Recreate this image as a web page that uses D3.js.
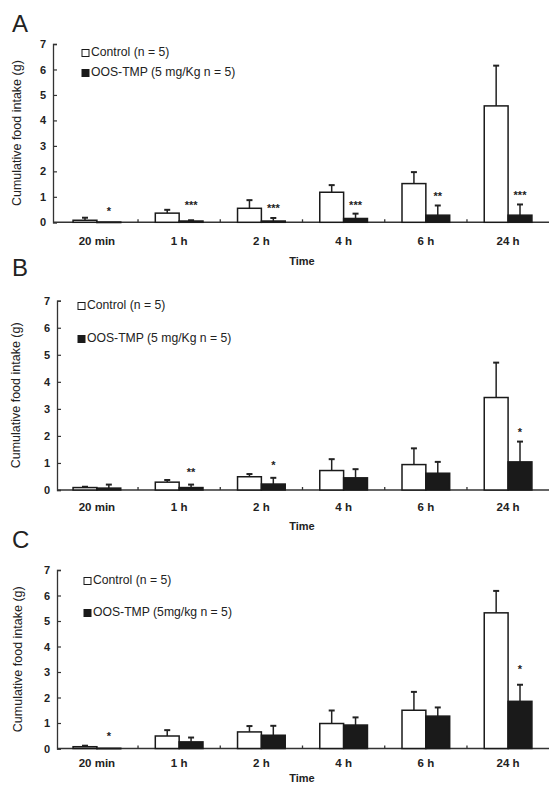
<!DOCTYPE html>
<html><head><meta charset="utf-8">
<script src="https://cdn.jsdelivr.net/npm/d3@7"></script>
<style>body{margin:0;background:#fff}svg{display:block}text{font-family:"Liberation Sans",Arial,sans-serif;fill:#222}</style>
</head><body>
<svg id="c" width="549" height="785"></svg>
<script>
const categories = ["20 min","1 h","2 h","4 h","6 h","24 h"];
const yTicks = [0,1,2,3,4,5,6,7];

const A_control    = [0.08,0.36,0.55,1.18,1.52,4.57];
const A_controlErr = [0.10,0.13,0.32,0.28,0.45,1.58];
const A_oos        = [0.01,0.05,0.05,0.15,0.28,0.28];
const A_oosErr     = [0.00,0.03,0.12,0.19,0.38,0.42];
const A_sig        = ["*","***","***","***","**","***"];
const A_sigY       = [0.56,0.79,0.66,0.77,1.12,1.16];

const B_control    = [0.09,0.29,0.49,0.72,0.94,3.42];
const B_controlErr = [0.03,0.08,0.10,0.42,0.60,1.29];
const B_oos        = [0.07,0.09,0.22,0.45,0.62,1.04];
const B_oosErr     = [0.13,0.11,0.23,0.32,0.42,0.75];
const B_sig        = ["","**","*","","","*"];
const B_sigY       = [0,0.74,1.02,0,0,2.25];

const C_control    = [0.07,0.49,0.65,0.98,1.50,5.32];
const C_controlErr = [0.04,0.23,0.23,0.51,0.72,0.86];
const C_oos        = [0.01,0.26,0.52,0.92,1.27,1.85];
const C_oosErr     = [0.00,0.17,0.37,0.30,0.34,0.65];
const C_sig        = ["*","","","","","*"];
const C_sigY       = [0.59,0,0,0,0,3.2];

const legendControl = "Control (n = 5)";
const legendA = "OOS-TMP (5 mg/Kg n = 5)";
const legendB = "OOS-TMP (5 mg/Kg n = 5)";
const legendC = "OOS-TMP (5mg/kg n = 5)";

const panels = [
  {letter:"A", ctl:A_control, ctlE:A_controlErr, oos:A_oos, oosE:A_oosErr, sig:A_sig, sigY:A_sigY, leg:legendA,
   top:44, bottom:222.3, axisX:53, letterY:32, legX:82, legY1:53, legY2:73, tickDy:19, timeY:262, ylabX:18},
  {letter:"B", ctl:B_control, ctlE:B_controlErr, oos:B_oos, oosE:B_oosErr, sig:B_sig, sigY:B_sigY, leg:legendB,
   top:300.7, bottom:490, axisX:57, letterY:276, legX:78, legY1:306, legY2:339, tickDy:17, timeY:527, ylabX:17},
  {letter:"C", ctl:C_control, ctlE:C_controlErr, oos:C_oos, oosE:C_oosErr, sig:C_sig, sigY:C_sigY, leg:legendC,
   top:570, bottom:748.5, axisX:57, letterY:548, legX:84, legY1:581, legY2:613, tickDy:14, timeY:779, ylabX:19}
];

const svg = d3.select("#c");
const x = d3.scaleBand().domain(categories).range([55.8, 549.2]).padding(0);
const bw = x.bandwidth();
const inner = d3.scaleBand().domain(["ctl","oos"]).range([bw*0.21, bw*0.79]).padding(0);

panels.forEach(p => {
  const g = svg.append("g");
  const y = d3.scaleLinear().domain([0,7]).range([p.bottom, p.top]);

  g.append("text").attr("x",12).attr("y",p.letterY).attr("font-size",24).text(p.letter);

  // y axis
  const yAx = g.append("g").attr("transform",`translate(${p.axisX},0)`)
    .call(d3.axisLeft(y).tickValues(yTicks).tickSize(-4).tickPadding(7).tickFormat(d3.format("d")));
  yAx.select(".domain").attr("stroke","#333").attr("stroke-width",1.3);
  yAx.selectAll(".tick line").attr("stroke","#333").attr("stroke-width",1.2);
  yAx.selectAll(".tick text").attr("font-size",11).attr("font-weight","bold").attr("fill","#333").style("font-family","Liberation Sans, Arial, sans-serif");

  // x axis
  const xAx = g.append("g").attr("transform",`translate(0,${p.bottom})`)
    .call(d3.axisBottom(x).tickSize(0).tickPadding(p.tickDy-4));
  xAx.select(".domain").attr("d",`M${p.axisX},0H549`).attr("stroke","#333").attr("stroke-width",1.5);
  xAx.selectAll(".tick text").attr("font-size",11.5).attr("font-weight","bold").attr("fill","#333").attr("dy","0.35em").attr("y",p.tickDy).style("font-family","Liberation Sans, Arial, sans-serif");
  // band separator ticks
  g.selectAll(".sep").data(categories.slice(1)).enter().append("line")
    .attr("x1",d=>x(d)).attr("x2",d=>x(d)).attr("y1",p.bottom).attr("y2",p.bottom-3)
    .attr("stroke","#333").attr("stroke-width",1.3);

  g.append("text").attr("x",302).attr("y",p.timeY).attr("text-anchor","middle")
    .attr("dominant-baseline","middle").attr("font-size",11).attr("font-weight","bold").text("Time");

  g.append("text").attr("transform",`translate(${p.ylabX},${(p.top+p.bottom)/2}) rotate(-90)`)
    .attr("text-anchor","middle").attr("dominant-baseline","middle").attr("font-size",12.5).attr("fill","#333")
    .text("Cumulative food intake (g)");

  // bars
  const series = [
    {key:"ctl", vals:p.ctl, err:p.ctlE, fill:"#fff"},
    {key:"oos", vals:p.oos, err:p.oosE, fill:"#1a1a1a"}
  ];
  series.forEach(s => {
    const sg = g.append("g");
    categories.forEach((c,i) => {
      const x0 = x(c) + inner(s.key);
      const w = inner.bandwidth();
      const cx = x0 + w/2;
      if (s.err[i] > 0) {
        sg.append("line").attr("x1",cx).attr("x2",cx).attr("y1",y(s.vals[i])).attr("y2",y(s.vals[i]+s.err[i]))
          .attr("stroke","#222").attr("stroke-width",1.5);
        sg.append("line").attr("x1",cx-3).attr("x2",cx+3).attr("y1",y(s.vals[i]+s.err[i])).attr("y2",y(s.vals[i]+s.err[i]))
          .attr("stroke","#222").attr("stroke-width",2);
      }
      sg.append("rect").attr("x",x0).attr("y",y(s.vals[i])).attr("width",w)
        .attr("height",Math.max(0.5, y(0)-y(s.vals[i])))
        .attr("fill",s.fill).attr("stroke","#1a1a1a").attr("stroke-width",1.5);
    });
  });

  // significance
  categories.forEach((c,i) => {
    if (!p.sig[i]) return;
    const cx = x(c) + inner("oos") + inner.bandwidth()/2;
    g.append("text").attr("x",cx).attr("y",y(p.sigY[i]) + 6.5).attr("text-anchor","middle")
      .attr("font-size",11).attr("font-weight","bold").attr("fill","#333").text(p.sig[i]);
  });

  // legend
  const lg = g.append("g");
  [[p.legY1,"#fff",legendControl],[p.legY2,"#1a1a1a",p.leg]].forEach(([ly,f,t]) => {
    lg.append("rect").attr("x",p.legX).attr("y",ly-3.5).attr("width",7).attr("height",7)
      .attr("fill",f).attr("stroke","#1a1a1a").attr("stroke-width",1);
    lg.append("text").attr("x",p.legX+9).attr("y",ly).attr("dominant-baseline","middle")
      .attr("font-size",12.2).attr("fill","#222").text(t);
  });
});
</script>
</body></html>
